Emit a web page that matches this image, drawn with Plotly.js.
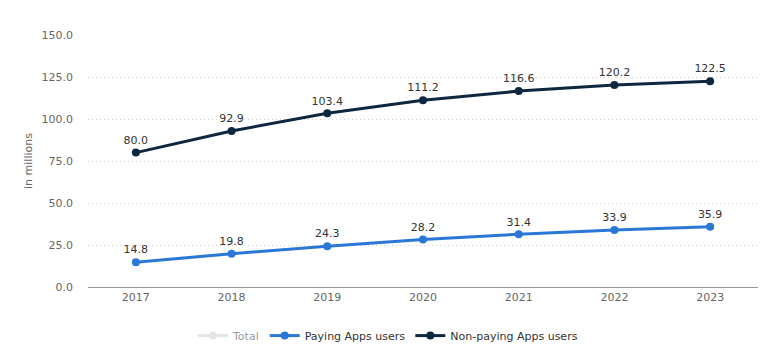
<!DOCTYPE html>
<html><head><meta charset="utf-8">
<script src="https://cdn.plot.ly/plotly-3.0.1.min.js"></script>
<style>html,body{margin:0;padding:0;background:#fff}#chart{width:776px;height:354px}</style>
</head><body><div id="chart"></div>
<script>
const years = ['2017','2018','2019','2020','2021','2022','2023'];
const totalUsers = [94.8, 112.7, 127.7, 139.4, 148.0, 154.1, 158.4];
const payingUsers = [14.8, 19.8, 24.3, 28.2, 31.4, 33.9, 35.9];
const nonPayingUsers = [80.0, 92.9, 103.4, 111.2, 116.6, 120.2, 122.5];
const yTicks = [0, 25, 50, 75, 100, 125, 150];

const fmt = v => v.toFixed(1);
const mk = (name, y, color, vis) => ({
  type: 'scatter', mode: 'lines+markers+text', name, x: years, y,
  text: y.map(fmt), textposition: 'top center',
  textfont: {family: 'DejaVu Sans, sans-serif', size: 11, color: '#333'},
  line: {color, width: 3}, marker: {color, size: 8},
  visible: vis, cliponaxis: false, hoverinfo: 'x+y'
});
const data = [
  mk('Total', totalUsers, '#cccccc', 'legendonly'),
  mk('Paying Apps users', payingUsers, '#2a77d6', true),
  mk('Non-paying Apps users', nonPayingUsers, '#0e2741', true)
];
const layout = {
  width: 776, height: 354,
  margin: {l: 88, r: 18, t: 35, b: 67},
  paper_bgcolor: '#fff', plot_bgcolor: '#fff',
  font: {family: 'DejaVu Sans, sans-serif', size: 11, color: '#666'},
  showlegend: true,
  legend: {orientation: 'h', x: 0.5, xanchor: 'center', xref: 'container',
           y: 0.052, yanchor: 'middle', yref: 'container',
           font: {size: 11, color: '#333'}, itemwidth: 30},
  xaxis: {type: 'category', range: [-0.5, 6.5], showgrid: false, zeroline: false,
          showline: true, linecolor: '#999', linewidth: 1, ticks: '',
          automargin: false, tickfont: {size: 11, color: '#666'}},
  yaxis: {range: [0, 150], tickvals: yTicks, ticktext: yTicks.map(fmt),
          showgrid: true, gridcolor: '#d0d0d0', griddash: '1px,3px', gridwidth: 1,
          zeroline: false, showline: false, ticks: '', ticklabelstandoff: 14,
          automargin: false,
          title: {text: 'in millions', font: {size: 11, color: '#666'}, standoff: 6},
          tickfont: {size: 11, color: '#666'}}
};
Plotly.newPlot('chart', data, layout, {displayModeBar: false, staticPlot: true});
</script></body></html>
